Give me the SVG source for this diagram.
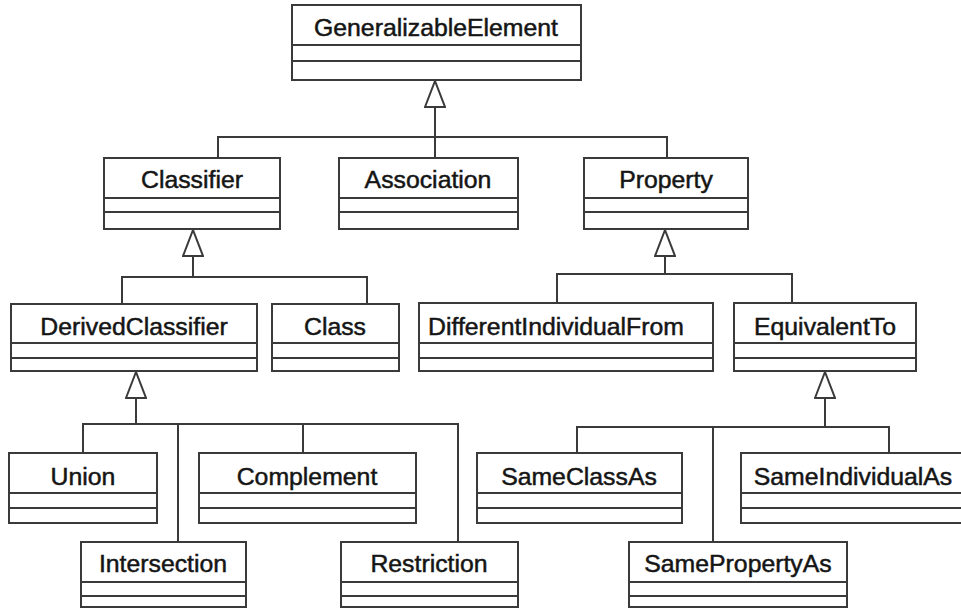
<svg xmlns="http://www.w3.org/2000/svg" width="961" height="609" viewBox="0 0 961 609">
<style>
  .box { fill: #ffffff; stroke: #3a3a3a; stroke-width: 2; }
  .div { stroke: #3a3a3a; stroke-width: 2; fill: none; }
  .lbl { font-family: "Liberation Sans", Arial, sans-serif; font-size: 24.8px; fill: #151515; text-anchor: middle; stroke: #151515; stroke-width: 0.5; }
  .conn { fill: none; stroke: #3a3a3a; stroke-width: 2; }
</style>
<defs>
  <marker id="gen" viewBox="0 0 28 22" refX="27" refY="11" markerWidth="28" markerHeight="22" markerUnits="userSpaceOnUse" orient="auto">
    <path d="M1,1 L27,11 L1,21 Z" fill="#ffffff" stroke="#3a3a3a" stroke-width="2"/>
  </marker>
</defs>
<rect width="961" height="609" fill="#ffffff"/>

<g id="connectors">
  <path class="conn" d="M218 158 V137 H667 V158 M435 158 V137"/>
  <path class="conn" d="M435 137 V81" marker-end="url(#gen)"/>
  <path class="conn" d="M122 304 V277 H367 V304"/>
  <path class="conn" d="M193 277 V230" marker-end="url(#gen)"/>
  <path class="conn" d="M557 303 V274 H792 V303"/>
  <path class="conn" d="M665 274 V230" marker-end="url(#gen)"/>
  <path class="conn" d="M83 453 V424 H458 V542 M178 424 V542 M303 424 V453"/>
  <path class="conn" d="M136 424 V372" marker-end="url(#gen)"/>
  <path class="conn" d="M577 453 V427 H889 V453 M713 427 V542"/>
  <path class="conn" d="M825 427 V372" marker-end="url(#gen)"/>
</g>

<g id="GeneralizableElement">
  <rect class="box" x="292" y="5" width="289" height="75"/>
  <path class="div" d="M292 45 H581 M292 61 H581"/>
  <text class="lbl" x="436" y="36">GeneralizableElement</text>
</g>
<g id="Classifier">
  <rect class="box" x="104" y="158" width="176" height="71"/>
  <path class="div" d="M104 198 H280 M104 212 H280"/>
  <text class="lbl" x="192" y="188">Classifier</text>
</g>
<g id="Association">
  <rect class="box" x="339" y="158" width="179" height="71"/>
  <path class="div" d="M339 198 H518 M339 212 H518"/>
  <text class="lbl" x="428" y="188">Association</text>
</g>
<g id="Property">
  <rect class="box" x="584" y="158" width="164" height="71"/>
  <path class="div" d="M584 198 H748 M584 212 H748"/>
  <text class="lbl" x="666" y="188">Property</text>
</g>
<g id="DerivedClassifier">
  <rect class="box" x="11" y="304" width="246" height="67"/>
  <path class="div" d="M11 343 H257 M11 358 H257"/>
  <text class="lbl" x="134" y="335">DerivedClassifier</text>
</g>
<g id="Class">
  <rect class="box" x="272" y="304" width="127" height="67"/>
  <path class="div" d="M272 343 H399 M272 358 H399"/>
  <text class="lbl" x="335" y="335">Class</text>
</g>
<g id="DifferentIndividualFrom">
  <rect class="box" x="419" y="303" width="294" height="68"/>
  <path class="div" d="M419 343 H713 M419 358 H713"/>
  <text class="lbl" x="556" y="335">DifferentIndividualFrom</text>
</g>
<g id="EquivalentTo">
  <rect class="box" x="734" y="303" width="182" height="68"/>
  <path class="div" d="M734 343 H916 M734 358 H916"/>
  <text class="lbl" x="825" y="335">EquivalentTo</text>
</g>
<g id="Union">
  <rect class="box" x="9" y="453" width="148" height="70"/>
  <path class="div" d="M9 493 H157 M9 508 H157"/>
  <text class="lbl" x="83" y="485">Union</text>
</g>
<g id="Complement">
  <rect class="box" x="199" y="453" width="217" height="70"/>
  <path class="div" d="M199 493 H416 M199 508 H416"/>
  <text class="lbl" x="307" y="485">Complement</text>
</g>
<g id="SameClassAs">
  <rect class="box" x="477" y="453" width="205" height="70"/>
  <path class="div" d="M477 493 H682 M477 508 H682"/>
  <text class="lbl" x="579" y="485">SameClassAs</text>
</g>
<g id="SameIndividualAs">
  <rect class="box" x="741" y="453" width="224" height="70"/>
  <path class="div" d="M741 493 H965 M741 508 H965"/>
  <text class="lbl" x="853" y="485">SameIndividualAs</text>
</g>
<g id="Intersection">
  <rect class="box" x="81" y="542" width="165" height="65"/>
  <path class="div" d="M81 582 H246 M81 596 H246"/>
  <text class="lbl" x="163" y="572">Intersection</text>
</g>
<g id="Restriction">
  <rect class="box" x="341" y="542" width="177" height="65"/>
  <path class="div" d="M341 582 H518 M341 596 H518"/>
  <text class="lbl" x="429" y="572">Restriction</text>
</g>
<g id="SamePropertyAs">
  <rect class="box" x="629" y="542" width="218" height="65"/>
  <path class="div" d="M629 582 H847 M629 596 H847"/>
  <text class="lbl" x="738" y="572">SamePropertyAs</text>
</g>
</svg>
